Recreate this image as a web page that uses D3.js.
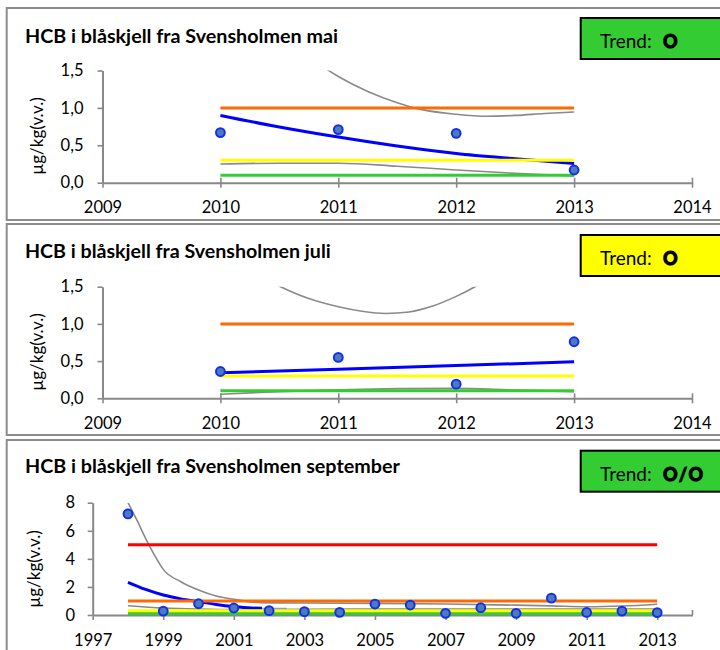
<!DOCTYPE html>
<html><head><meta charset="utf-8">
<script src="https://cdn.jsdelivr.net/npm/d3@7"></script>
<style>
body{margin:0;background:#fff;}
svg{display:block;font-family:Lato,"Open Sans",sans-serif;}
</style></head><body>
<svg id="c" width="720" height="650"></svg>
<script>
// ---------- data ----------
const panelTitles = ["HCB i blåskjell fra Svensholmen mai","HCB i blåskjell fra Svensholmen juli","HCB i blåskjell fra Svensholmen september"];
const trendLabels = ["O","O","O/O"];
const trendColors = ["#33cc33","#ffff00","#33cc33"];
const yAxisTitle = "µg/kg(v.v.)";
const xTicksShort = [2009,2010,2011,2012,2013,2014];
const yTicksShort = [0,0.5,1.0,1.5];
const xTicksLong = [1997,1999,2001,2003,2005,2007,2009,2011,2013];
const yTicksLong = [0,2,4,6,8];
const classLimitsShort = [0.1,0.3,1.0];
const classLimitsLong = [0.1,0.3,1.0,5.0];

const maiYears = [2010,2011,2012,2013];
const maiValues = [0.67,0.71,0.66,0.17];
const maiTrend = [[2010,0.90],[2010.5,0.745],[2011,0.61],[2011.5,0.49],[2012,0.39],[2012.5,0.32],[2013,0.258]];
const maiUpper = [[2010.75,1.68],[2011,1.42],[2011.25,1.22],[2011.5,1.07],[2011.7,0.98],[2012,0.915],[2012.26,0.888],[2012.5,0.9],[2012.75,0.925],[2013,0.945]];
const maiLower = [[2010,0.25],[2010.5,0.26],[2011,0.26],[2011.5,0.22],[2012,0.17],[2012.5,0.125],[2013,0.09]];

const juliYears = [2010,2011,2012,2013];
const juliValues = [0.36,0.55,0.19,0.76];
const juliTrend = [[2010,0.344],[2011,0.39],[2012,0.44],[2013,0.49]];
const juliUpper = [[2010.35,1.63],[2010.51,1.5],[2010.75,1.34],[2011,1.23],[2011.2,1.17],[2011.4,1.14],[2011.6,1.16],[2011.8,1.24],[2012,1.37],[2012.16,1.5],[2012.3,1.63]];
const juliLower = [[2010,0.055],[2010.5,0.09],[2011,0.115],[2011.5,0.13],[2012,0.134],[2012.5,0.11],[2013,0.09]];

const sepYears = [1998,1999,2000,2001,2002,2003,2004,2005,2006,2007,2008,2009,2010,2011,2012,2013];
const sepValues = [7.2,0.28,0.8,0.5,0.31,0.24,0.19,0.78,0.71,0.12,0.52,0.12,1.2,0.18,0.28,0.17];
const sepTrend = [[1998,2.33],[1998.5,1.82],[1999,1.42],[1999.5,1.15],[2000,0.95],[2000.5,0.75],[2001,0.6],[2001.5,0.5],[2001.8,0.48]];
const sepTrendTail = [[2001.8,0.48],[2002.5,0.47]];
const sepUpper = [[1998,8.0],[1998.25,6.77],[1998.5,5.46],[1998.75,4.27],[1999,3.25],[1999.5,2.37],[2000,1.78],[2000.5,1.35],[2001,1.12],[2001.75,0.88],[2003,0.85],[2005,0.83],[2007,0.78],[2009,0.7],[2010,0.65],[2011,0.59],[2012,0.64],[2013,0.77]];
const sepLower = [[1998,0.66],[1999,0.5],[2000,0.42],[2001,0.38],[2003,0.4],[2005,0.42],[2007,0.42],[2009,0.42],[2011,0.42],[2013,0.42]];

// ---------- style ----------
const C = {orange:"#ff6a00", yellow:"#ffff00", green:"#33cc33", red:"#ff0000", blue:"#0000ff",
           gray:"#8a8a8a", axis:"#888888", frame:"#8c8c8c", ptFill:"#4f7ab8", ptStroke:"#1030f0"};
const limitColor = {0.1:C.green, 0.3:C.yellow, 1:C.orange, 5:C.red};

const fmtComma = d3.formatLocale({decimal:",",thousands:" ",grouping:[3],currency:["",""]}).format(".1f");
const fmtInt = d3.format("d");

const panels = [
 {top:8, bottom:220, title:panelTitles[0], titleY:42.7, titleW:313, boxY:18, trend:trendLabels[0], boxFill:trendColors[0],
  xDomain:[2009,2014], xRange:[102.5,692], yDomain:[0,1.5], yRange:[182.7,70.5], xTicks:xTicksShort, yTicks:yTicksShort,
  yFmt:fmtComma, cross:true, tickPad:14, classFrom:2010, classTo:2013, limits:classLimitsShort,
  years:maiYears, values:maiValues, trendLine:maiTrend, upper:maiUpper, lower:maiLower, yTitleX:36, yTitleY:136},
 {top:224, bottom:435, title:panelTitles[1], titleY:257.7, titleW:306, boxY:235, trend:trendLabels[1], boxFill:trendColors[1],
  xDomain:[2009,2014], xRange:[102.5,692], yDomain:[0,1.5], yRange:[398.3,286.7], xTicks:xTicksShort, yTicks:yTicksShort,
  yFmt:fmtComma, cross:true, tickPad:14, classFrom:2010, classTo:2013, limits:classLimitsShort,
  years:juliYears, values:juliValues, trendLine:juliTrend, upper:juliUpper, lower:juliLower, yTitleX:36, yTitleY:352},
 {top:440, bottom:670, title:panelTitles[2], titleY:473.3, titleW:375, boxY:450.7, trend:trendLabels[2], boxFill:trendColors[2],
  xDomain:[1997,2014], xRange:[92.7,692.5], yDomain:[0,8], yRange:[615,502.7], xTicks:xTicksLong, yTicks:yTicksLong,
  yFmt:fmtInt, cross:false, tickPad:12.7, classFrom:1998, classTo:2013, limits:classLimitsLong,
  years:sepYears, values:sepValues, trendLine:sepTrend, trendTail:sepTrendTail, upper:sepUpper, lower:sepLower, yTitleX:33.5, yTitleY:569}
];

const svg = d3.select("#c");

panels.forEach((p, i) => {
  const g = svg.append("g");
  // frame
  g.append("rect").attr("x",6.7).attr("y",p.top).attr("width",760).attr("height",p.bottom-p.top)
    .attr("fill","#fff").attr("stroke",C.frame).attr("stroke-width",2);

  // title
  const t = g.append("text").attr("x",25).attr("y",p.titleY).attr("font-weight","bold")
    .attr("font-size",17).attr("fill","#000").text(p.title);
  const w = t.node().getComputedTextLength();
  t.attr("font-size", 17 * p.titleW / w);

  // trend box
  g.append("rect").attr("x",580.7).attr("y",p.boxY).attr("width",160).attr("height",41)
    .attr("fill",p.boxFill).attr("stroke","#000").attr("stroke-width",2);
  g.append("text").attr("x",600).attr("y",p.boxY+30.3).attr("font-size",19).attr("fill","#000").text("Trend:");
  g.append("text").attr("x",663).attr("y",p.boxY+30.3).attr("font-size",18).attr("font-weight",900)
    .attr("letter-spacing",p.trend.length>1?1.5:0).attr("fill","#000")
    .attr("stroke","#000").attr("stroke-width",0.9).text(p.trend);

  // scales
  const x = d3.scaleLinear().domain(p.xDomain).range(p.xRange);
  const y = d3.scaleLinear().domain(p.yDomain).range(p.yRange);

  // axes
  const ya = g.append("g").attr("transform",`translate(${p.xRange[0]},0)`)
    .call(d3.axisLeft(y).tickValues(p.yTicks).tickFormat(p.yFmt).tickSizeInner(5).tickSizeOuter(0).tickPadding(p.tickPad));
  const xa = g.append("g").attr("transform",`translate(0,${p.yRange[0]})`)
    .call(d3.axisBottom(x).tickValues(p.xTicks).tickFormat(fmtInt).tickSizeInner(5).tickSizeOuter(0));
  [ya,xa].forEach(a => {
    a.select(".domain").attr("stroke",C.axis).attr("stroke-width",2);
    a.selectAll(".tick line").attr("stroke",C.axis).attr("stroke-width",1.6);
    a.selectAll(".tick text").attr("fill","#000").attr("font-size",16.5).attr("font-family","Lato,'Open Sans',sans-serif");
  });
  xa.selectAll(".tick text").attr("y",30.5).attr("dy",null);
  if (p.cross) xa.selectAll(".tick line").attr("y1",-5).attr("y2",5);
  else {
    xa.append("line").attr("x1",x(p.xDomain[1])).attr("x2",x(p.xDomain[1])).attr("y1",0).attr("y2",-5)
      .attr("stroke",C.axis).attr("stroke-width",1.6);
  }

  // y title
  g.append("text").attr("transform",`translate(${p.yTitleX},${p.yTitleY}) rotate(-90)`)
    .attr("text-anchor","middle").attr("dominant-baseline","central").attr("font-size",17).attr("fill","#000")
    .text(yAxisTitle);

  // clip
  const cid = "clip"+i;
  svg.append("clipPath").attr("id",cid).append("rect")
    .attr("x",p.xRange[0]).attr("y",p.yRange[1]).attr("width",p.xRange[1]-p.xRange[0]).attr("height",p.yRange[0]-p.yRange[1]+3);
  const pg = g.append("g").attr("clip-path",`url(#${cid})`);

  const line = d3.line().x(d=>x(d[0])).y(d=>y(d[1])).curve(d3.curveMonotoneX);

  // confidence lines
  [p.upper,p.lower].forEach(d => pg.append("path").attr("d",line(d)).attr("fill","none")
    .attr("stroke",C.gray).attr("stroke-width",1.6));

  // class limits
  p.limits.forEach(v => g.append("line").attr("x1",x(p.classFrom)).attr("x2",x(p.classTo))
    .attr("y1",y(v)).attr("y2",y(v)).attr("stroke",limitColor[v]).attr("stroke-width",3));

  // trend
  if (p.trendTail) pg.append("path").attr("d",line(p.trendTail)).attr("fill","none")
    .attr("stroke","#8a8cff").attr("stroke-width",1.2);
  pg.append("path").attr("d",line(p.trendLine)).attr("fill","none").attr("stroke",C.blue).attr("stroke-width",3);

  // points
  g.selectAll("circle.pt").data(p.years.map((yr,k)=>[yr,p.values[k]])).enter().append("circle")
    .attr("class","pt").attr("cx",d=>x(d[0])).attr("cy",d=>y(d[1])).attr("r",4.4)
    .attr("fill",C.ptFill).attr("stroke",C.ptStroke).attr("stroke-width",2);
});
</script>
</body></html>
